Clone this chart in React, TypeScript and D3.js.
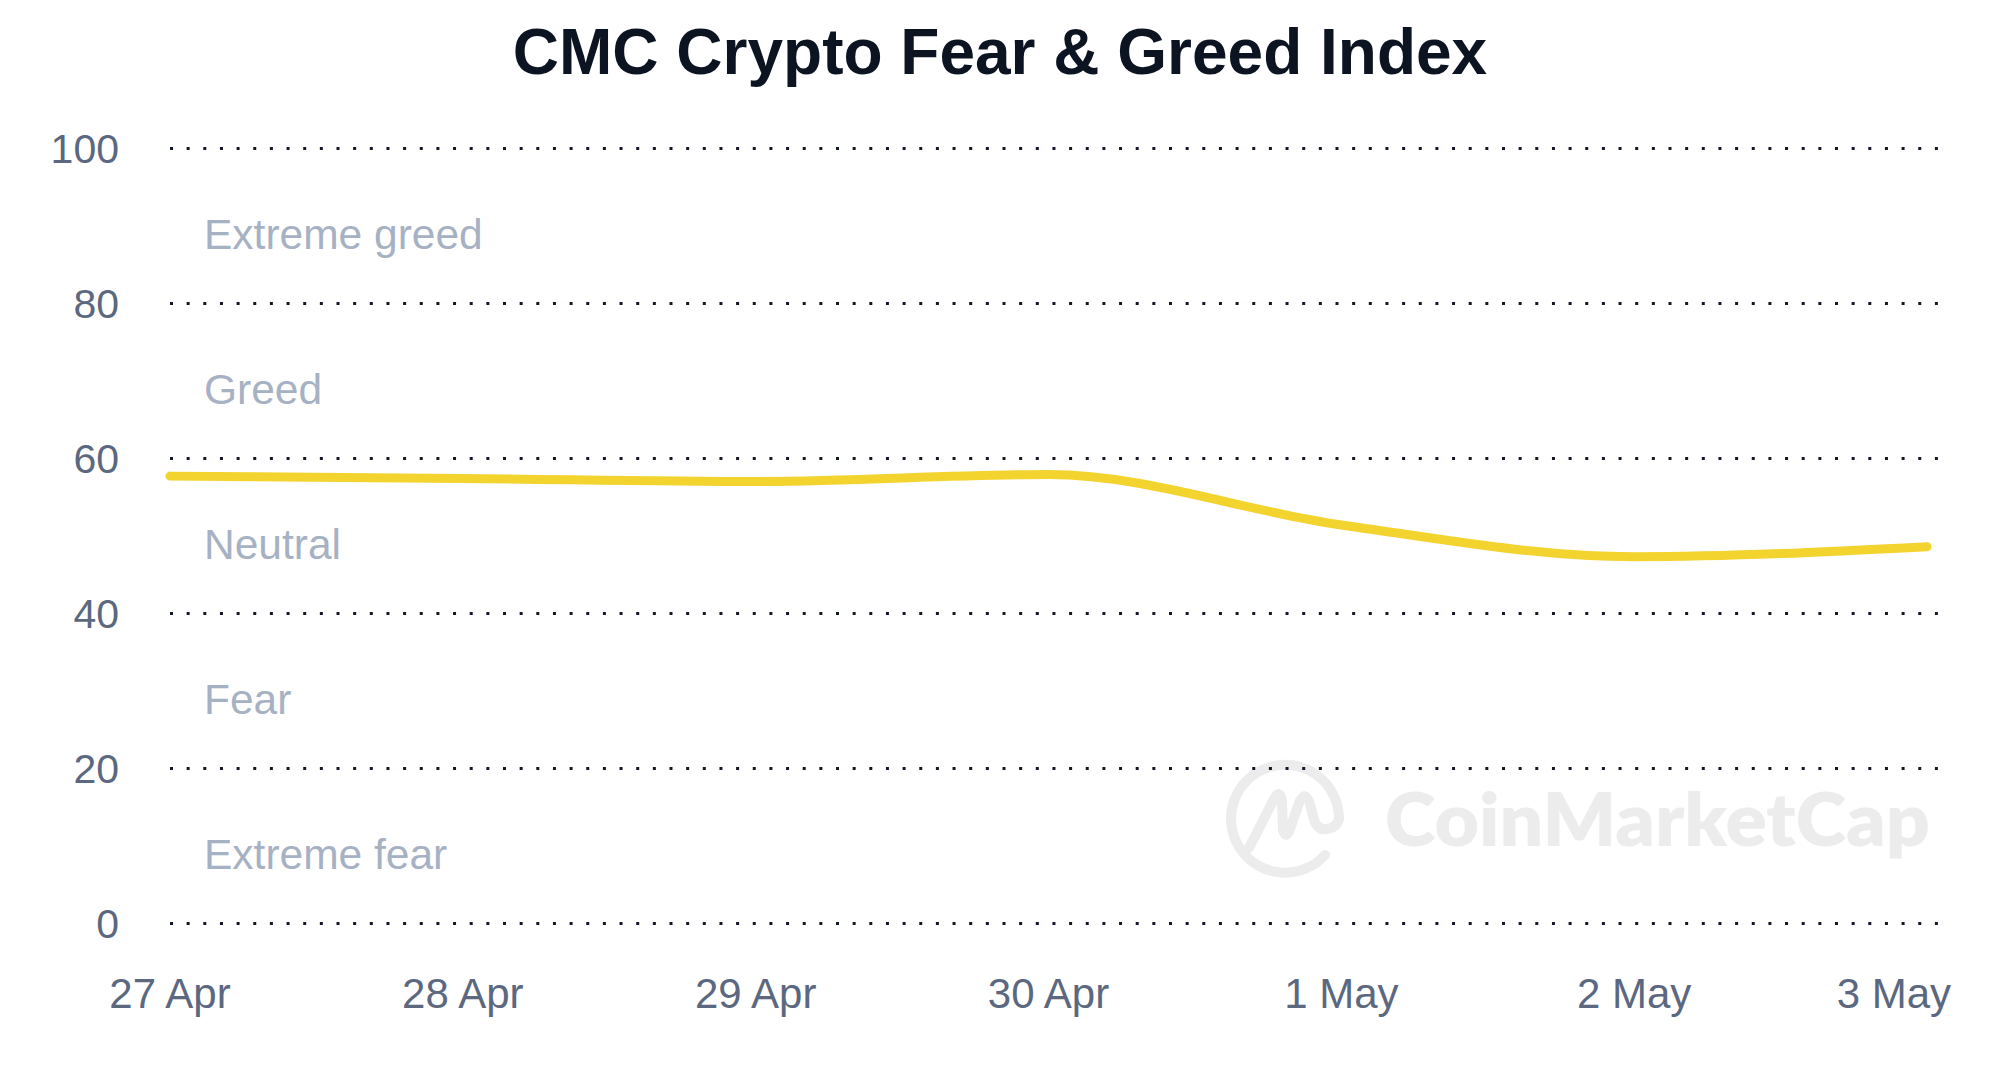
import React from "react";
import * as d3 from "d3";

const W = 1999;
const H = 1066;

const TITLE = "CMC Crypto Fear & Greed Index";
const dates = ["2024-04-27", "2024-04-28", "2024-04-29", "2024-04-30", "2024-05-01", "2024-05-02", "2024-05-03"];
const values = [57.7, 57.4, 57.0, 57.9, 51.4, 47.3, 48.6];
const yTicks = [0, 20, 40, 60, 80, 100];
const zoneLabels = ["Extreme fear", "Fear", "Neutral", "Greed", "Extreme greed"];
const zoneCenters = [10, 30, 50, 70, 90];

const parse = d3.timeParse("%Y-%m-%d");
const fmt = d3.timeFormat("%-d %b");

export default function App() {
  const parsed = dates.map((d) => parse(d) as Date);
  const x = d3.scaleTime().domain([parsed[0], parsed[parsed.length - 1]]).range([170, 1927]);
  const y = d3.scaleLinear().domain([0, 100]).range([923.3, 148.3]);
  const gridX0 = 170;
  const gridX1 = 1940;

  const line = d3
    .line<number>()
    .x((_, i) => x(parsed[i]))
    .y((v) => y(v))
    .curve(d3.curveMonotoneX);

  const font = "'Liberation Sans', Arial, Helvetica, sans-serif";
  const cx = 1285;
  const cy = 816;

  return (
    <svg width={W} height={H} style={{ position: "absolute", left: 0, top: 0, background: "#fff" }}>
      <rect x={0} y={0} width={W} height={H} fill="#ffffff" />
      {/* watermark */}
      <g stroke="#ececec" strokeWidth={10} fill="none" strokeLinecap="round" strokeLinejoin="round">
        <path d={`M ${cx + 40} ${cy + 39} A 54 54 0 1 1 ${cx + 54} ${cy + 2}`} />
        <path
          d={`M ${cx - 36} ${cy + 32} L ${cx - 11} ${cy - 17} Q ${cx - 5} ${cy - 28} ${cx - 3} ${cy - 15} L ${cx - 2} ${cy + 14} Q ${cx + 1} ${cy + 24} ${cx + 5} ${cy + 13} L ${cx + 14} ${cy - 13} Q ${cx + 20} ${cy - 27} ${cx + 25} ${cy - 12} L ${cx + 29} ${cy + 4} Q ${cx + 33} ${cy + 15} ${cx + 42} ${cy + 13} Q ${cx + 53} ${cy + 11} ${cx + 54} ${cy + 2}`}
        />
      </g>
      <text
        x={1385}
        y={846}
        fontFamily="Lato, 'Open Sans', sans-serif"
        fontWeight={800}
        fontSize={74}
        fill="#ececec"
        textLength={545}
        lengthAdjust="spacingAndGlyphs"
      >
        CoinMarketCap
      </text>

      {/* title */}
      <text x={1000} y={74} textAnchor="middle" fontFamily={font} fontWeight={700} fontSize={64} fill="#0d1421">
        {TITLE}
      </text>

      {/* grid + y ticks */}
      {yTicks.map((t) => {
        const gy = Math.round(y(t)) + 0.5;
        return (
          <g key={t}>
            <line
              x1={gridX0}
              x2={gridX1}
              y1={gy}
              y2={gy}
              stroke="#111827"
              strokeWidth={3}
              strokeDasharray="3 13.65"
            />
            <text x={119} y={y(t) + 14.5} textAnchor="end" fontFamily={font} fontSize={41} fill="#5b6880">
              {t}
            </text>
          </g>
        );
      })}

      {/* zone labels */}
      {zoneLabels.map((lab, i) => (
        <text key={lab} x={204} y={y(zoneCenters[i]) + 23.5} fontFamily={font} fontSize={42.5} fill="#a7b1c4">
          {lab}
        </text>
      ))}

      {/* x ticks */}
      {parsed.map((d, i) => {
        const last = i === parsed.length - 1;
        return (
          <text
            key={i}
            x={last ? x(d) + 24 : x(d)}
            y={1008}
            textAnchor={last ? "end" : "middle"}
            fontFamily={font}
            fontSize={42}
            fill="#5b6880"
          >
            {fmt(d)}
          </text>
        );
      })}

      {/* line */}
      <path d={line(values) || ""} fill="none" stroke="#f3d42f" strokeWidth={9} strokeLinecap="round" strokeLinejoin="round" />
    </svg>
  );
}
